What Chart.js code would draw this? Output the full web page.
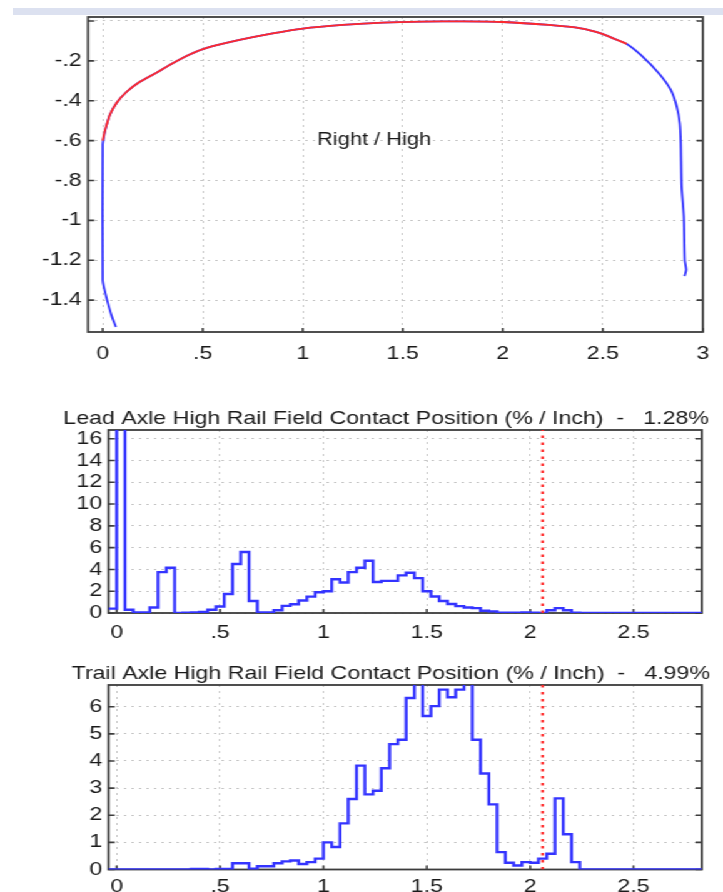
<!DOCTYPE html>
<html>
<head>
<meta charset="utf-8">
<script src="https://cdn.jsdelivr.net/npm/chart.js@4.4.1/dist/chart.umd.min.js"></script>
<style>
  html, body { margin: 0; padding: 0; background: #fff; }
  body { width: 723px; height: 892px; position: relative; overflow: hidden; }
  .band { position: absolute; left: 13px; right: 0; top: 8px; height: 7px; background: #dce1f0; }
  #wrap { position: absolute; left: 0; top: 0; width: 578px; height: 892px; transform: scaleX(1.2509); transform-origin: 0 0; }
  .box { position: absolute; left: 0; width: 578px; }
</style>
</head>
<body>
<div class="band"></div>
<div id="wrap">
  <div class="box" style="top:0;height:370px"><canvas id="profile"></canvas></div>
  <div class="box" style="top:380px;height:265px"><canvas id="lead"></canvas></div>
  <div class="box" style="top:645px;height:247px"><canvas id="trail"></canvas></div>
</div>
<script>
// measured rail head profile (inch), blue
var wornX = [0.066, 0.045, 0.022, 0.005, 0, 0, 0.01, 0.02, 0.036, 0.07, 0.12, 0.186, 0.27, 0.35, 0.435, 0.52,
  0.684, 0.85, 1.0, 1.2, 1.4, 1.6, 1.8, 2.0, 2.23, 2.39, 2.49, 2.56, 2.62, 2.69, 2.78, 2.84, 2.87,
  2.885, 2.89, 2.894, 2.905, 2.91, 2.917, 2.909];
var wornY = [-1.535, -1.48, -1.4, -1.33, -1.3, -0.62, -0.56, -0.52, -0.47, -0.41, -0.355, -0.305, -0.259, -0.212, -0.168, -0.135,
  -0.095, -0.062, -0.038, -0.02, -0.008, -0.003, -0.002, -0.005, -0.02, -0.037, -0.062, -0.09, -0.115, -0.17, -0.262, -0.346, -0.43,
  -0.513, -0.613, -0.83, -0.98, -1.2, -1.248, -1.28];

// reference profile, red
var newX = [0, 0.01, 0.02, 0.036, 0.07, 0.12, 0.186, 0.27, 0.35, 0.435, 0.52, 0.684, 0.85, 1.0, 1.2, 1.4,
  1.6, 1.8, 2.0, 2.23, 2.39, 2.49, 2.56, 2.62];
var newY = [-0.6, -0.555, -0.52, -0.47, -0.41, -0.355, -0.305, -0.259, -0.212, -0.168, -0.135, -0.095, -0.062, -0.038, -0.02, -0.008,
  -0.003, -0.002, -0.005, -0.02, -0.037, -0.062, -0.09, -0.115];

// contact position histograms, 0.04" bins from -0.04
var binStart = -0.04;
var binWidth = 0.04;
var leadPct = [0.4, 20, 0.3, 0.05, 0.05, 0.5, 3.75, 4.15, 0, 0.02,
  0.05, 0.1, 0.3, 0.6, 1.75, 4.5, 5.6, 1.1, 0.05, 0.05,
  0.25, 0.65, 0.8, 1.15, 1.5, 1.9, 2.0, 3.1, 2.8, 3.75,
  4.15, 4.8, 2.85, 2.95, 2.95, 3.45, 3.7, 3.2, 2.0, 1.52,
  1.1, 0.83, 0.63, 0.5, 0.45, 0.2, 0.15, 0.03, 0.02, 0.02,
  0.05, 0.02, 0, 0.25, 0.45, 0.25, 0.03, 0, 0, 0,
  0, 0, 0, 0, 0, 0, 0, 0, 0, 0, 0, 0];
var trailPct = [0, 0, 0, 0, 0, 0, 0, 0, 0, 0,
  0.02, 0.02, 0, 0.02, 0.02, 0.23, 0.23, 0.03, 0.12, 0.12,
  0.23, 0.3, 0.33, 0.2, 0.27, 0.4, 1.0, 0.83, 1.7, 2.6,
  3.83, 2.77, 2.9, 3.73, 4.62, 4.78, 6.32, 7.2, 5.66, 6.02,
  6.63, 6.35, 6.63, 7.2, 4.78, 3.54, 2.4, 0.64, 0.25, 0.15,
  0.27, 0.25, 0.4, 0.58, 2.62, 1.3, 0.27, 0, 0, 0,
  0, 0, 0, 0, 0, 0, 0, 0, 0, 0, 0, 0];
var limitX = 2.06;

var leadTitle = "Lead Axle High Rail Field Contact Position (% / Inch)  -   1.28%";
var trailTitle = "Trail Axle High Rail Field Contact Position (% / Inch)  -   4.99%";
var profileLabel = "Right / High";
var profileLabelAt = [1.357, -0.597];

var BLUE = "#3434ff";
var RED = "#ff2a2a";

Chart.defaults.font.family = '"Liberation Sans", Arial, sans-serif';
Chart.defaults.font.size = 18.5;
Chart.defaults.color = "#1a1a1a";
Chart.defaults.animation = false;
Chart.defaults.plugins.legend.display = false;
Chart.defaults.plugins.tooltip.enabled = false;

function pts(xs, ys) {
  return xs.map(function (x, i) { return { x: x, y: ys[i] }; });
}

function histPts(vals) {
  var out = vals.map(function (v, i) {
    return { x: +(binStart + i * binWidth).toFixed(3), y: v };
  });
  out.push({ x: +(binStart + vals.length * binWidth).toFixed(3), y: vals[vals.length - 1] });
  return out;
}

// matlab style labels: ".5", "-.2"
function fmt(v) {
  return String(Math.round(v * 10) / 10).replace("0.", ".");
}

// dark box + inward tick marks
var frame = {
  id: "frame",
  beforeDatasetsDraw: function (chart) {
    var a = chart.chartArea, ctx = chart.ctx;
    var xs = chart.scales.x, ys = chart.scales.y;
    ctx.save();
    ctx.strokeStyle = "#3c3c3c";
    ctx.lineWidth = 1.8;
    ctx.strokeRect(a.left, a.top, a.right - a.left, a.bottom - a.top);
    ctx.lineWidth = 1.6;
    ctx.beginPath();
    ys.ticks.forEach(function (t) {
      var y = ys.getPixelForValue(t.value);
      ctx.moveTo(a.left, y); ctx.lineTo(a.left + 5, y);
      ctx.moveTo(a.right, y); ctx.lineTo(a.right - 5, y);
    });
    xs.ticks.forEach(function (t) {
      var x = xs.getPixelForValue(t.value);
      ctx.moveTo(x, a.bottom); ctx.lineTo(x, a.bottom - 4);
    });
    ctx.stroke();
    ctx.restore();
  }
};

function heading(id, text, left, baseline) {
  return {
    id: id,
    afterDraw: function (chart) {
      var ctx = chart.ctx;
      ctx.save();
      ctx.font = '18.5px "Liberation Sans", Arial, sans-serif';
      ctx.fillStyle = "#1a1a1a";
      ctx.textAlign = "left";
      ctx.textBaseline = "alphabetic";
      ctx.fillText(text, left, baseline);
      ctx.restore();
    }
  };
}

var profileText = {
  id: "profileText",
  afterDatasetsDraw: function (chart) {
    var ctx = chart.ctx;
    ctx.save();
    ctx.font = '17.5px "Liberation Sans", Arial, sans-serif';
    ctx.fillStyle = "#1a1a1a";
    ctx.textAlign = "center";
    ctx.textBaseline = "middle";
    ctx.fillText(profileLabel,
      chart.scales.x.getPixelForValue(profileLabelAt[0]),
      chart.scales.y.getPixelForValue(profileLabelAt[1]));
    ctx.restore();
  }
};

function axes(o) {
  return {
    x: {
      type: "linear", min: o.xMin, max: o.xMax,
      afterFit: function (s) { s.height = o.xH; },
      grid: { color: "#c6c6c6", drawTicks: false },
      border: { display: false, dash: [2, 4] },
      ticks: {
        stepSize: 0.5, includeBounds: false, padding: o.xPad, autoSkip: false, maxRotation: 0,
        callback: function (v) { return fmt(v); }
      }
    },
    y: {
      type: "linear", min: o.yMin, max: o.yMax,
      afterFit: function (s) { s.width = o.yW; },
      grid: { color: "#c6c6c6", drawTicks: false },
      border: { display: false, dash: [2, 4] },
      ticks: {
        stepSize: o.yStep, includeBounds: false, padding: 5, autoSkip: false,
        callback: o.yLabel || function (v) { return fmt(v); }
      }
    }
  };
}

function limitLine(yMax) {
  return {
    data: [{ x: limitX, y: 0 }, { x: limitX, y: yMax }],
    borderColor: RED, borderWidth: 2.2, borderDash: [2.5, 4.5],
    pointRadius: 0
  };
}

function histSet(vals) {
  return {
    data: histPts(vals), stepped: true,
    borderColor: BLUE, borderWidth: 2.4, pointRadius: 0
  };
}

new Chart(document.getElementById("profile"), {
  type: "line",
  data: {
    datasets: [
      { data: pts(newX, newY), borderColor: RED, borderWidth: 1.8, pointRadius: 0, tension: 0.2 },
      { data: pts(wornX, wornY), borderColor: BLUE, borderWidth: 1.8, pointRadius: 0, tension: 0.2 }
    ]
  },
  options: {
    responsive: true, maintainAspectRatio: false,
    layout: { padding: { top: 17, right: 16, left: 0, bottom: 0 } },
    scales: axes({
      xMin: -0.0735, xMax: 3, xH: 38, xPad: 11,
      yMin: -1.56, yMax: 0.02, yStep: 0.2, yW: 70.35,
      yLabel: function (v) { return Math.abs(v) < 1e-9 ? "" : fmt(v); }
    })
  },
  plugins: [frame, profileText]
});

new Chart(document.getElementById("lead"), {
  type: "line",
  data: { datasets: [limitLine(16.8), histSet(leadPct)] },
  options: {
    responsive: true, maintainAspectRatio: false,
    layout: { padding: { top: 50, right: 17, left: 0, bottom: 0 } },
    scales: axes({ xMin: -0.04, xMax: 2.83, xH: 32, xPad: 9, yMin: 0, yMax: 16.8, yStep: 2, yW: 86.7 })
  },
  plugins: [frame, heading("leadTitle", leadTitle, 50.6, 44)]
});

new Chart(document.getElementById("trail"), {
  type: "line",
  data: { datasets: [limitLine(6.8), histSet(trailPct)] },
  options: {
    responsive: true, maintainAspectRatio: false,
    layout: { padding: { top: 40, right: 17, left: 0, bottom: 0 } },
    scales: axes({ xMin: -0.04, xMax: 2.83, xH: 22.5, xPad: 6, yMin: 0, yMax: 6.8, yStep: 1, yW: 86.7 })
  },
  plugins: [frame, heading("trailTitle", trailTitle, 57.3, 34)]
});
</script>
</body>
</html>
